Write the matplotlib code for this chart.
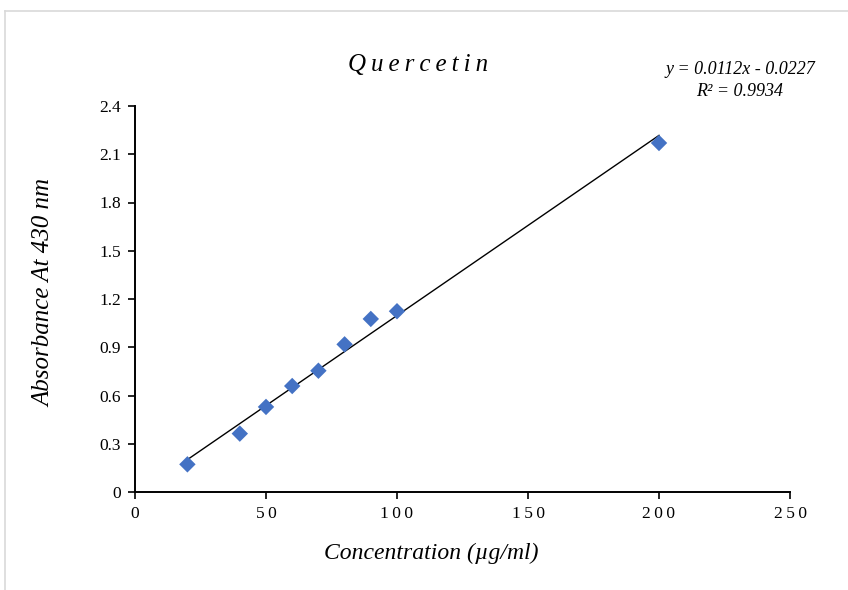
import numpy as np
import matplotlib
matplotlib.use("Agg")
import matplotlib.pyplot as plt
from matplotlib.lines import Line2D

# Data
concentration = [20, 40, 50, 60, 70, 80, 90, 100, 200]
absorbance = [0.172, 0.363, 0.529, 0.659, 0.754, 0.918, 1.076, 1.124, 2.170]
slope = 0.0112
intercept = -0.0227
r_squared = 0.9934
x_ticks = [0, 50, 100, 150, 200, 250]
y_ticks = [0, 0.3, 0.6, 0.9, 1.2, 1.5, 1.8, 2.1, 2.4]
y_tick_labels = ["0", "0.3", "0.6", "0.9", "1.2", "1.5", "1.8", "2.1", "2.4"]
title_text = "Quercetin"
x_label = "Concentration (µg/ml)"
y_label = "Absorbance At 430 nm"

plt.rcParams['font.family'] = ['Liberation Serif', 'DejaVu Serif']

fig = plt.figure(figsize=(8.48, 5.90), dpi=100)
ax = fig.add_axes([135/848, 1-492/590, (790-135)/848, (492-106)/590])

ax.scatter(concentration, absorbance, marker='D', s=70, color='#4472C4',
           edgecolors='none', zorder=3)

fit_x = np.array([min(concentration), max(concentration)])
ax.plot(fit_x, slope*fit_x + intercept, color='black', lw=1.0, zorder=2)

ax.set_xlim(0, 250)
ax.set_ylim(0, 2.4)
ax.set_xticks(x_ticks)
ax.set_xticklabels(["\u2009".join(str(v)) for v in x_ticks], fontsize=12.5)
ax.set_yticks(y_ticks)
ax.set_yticklabels(y_tick_labels, fontsize=12.5)
ax.tick_params(axis='both', direction='out', length=5, width=1.2, color='black')
ax.tick_params(axis='x', pad=5)
ax.tick_params(axis='y', pad=5)

for side in ['top', 'right']:
    ax.spines[side].set_visible(False)
for side in ['left', 'bottom']:
    ax.spines[side].set_linewidth(1.4)

fig.text(418/848, 1-65/590, "\u2009".join(title_text), fontsize=18, style='italic',
         ha='center', va='center')
fig.text(740/848, 1-70/590, f"y = {slope}x - {abs(intercept)}", fontsize=13,
         style='italic', ha='center', va='center')
fig.text(740/848, 1-92/590, f"R² = {r_squared}", fontsize=13,
         style='italic', ha='center', va='center')
fig.text(431/848, 1-553/590, x_label, fontsize=17, style='italic',
         ha='center', va='center')
fig.text(44/848, 1-293/590, y_label, fontsize=18, style='italic',
         ha='center', va='center', rotation=90)

# light figure border (left and top edges visible)
fig.add_artist(Line2D([5/848, 5/848], [0, 1-11/590], color='#d9d9d9', lw=1.2,
                      transform=fig.transFigure))
fig.add_artist(Line2D([5/848, 1], [1-11/590, 1-11/590], color='#d9d9d9', lw=1.2,
                      transform=fig.transFigure))

fig.savefig("out.png", dpi=100)
